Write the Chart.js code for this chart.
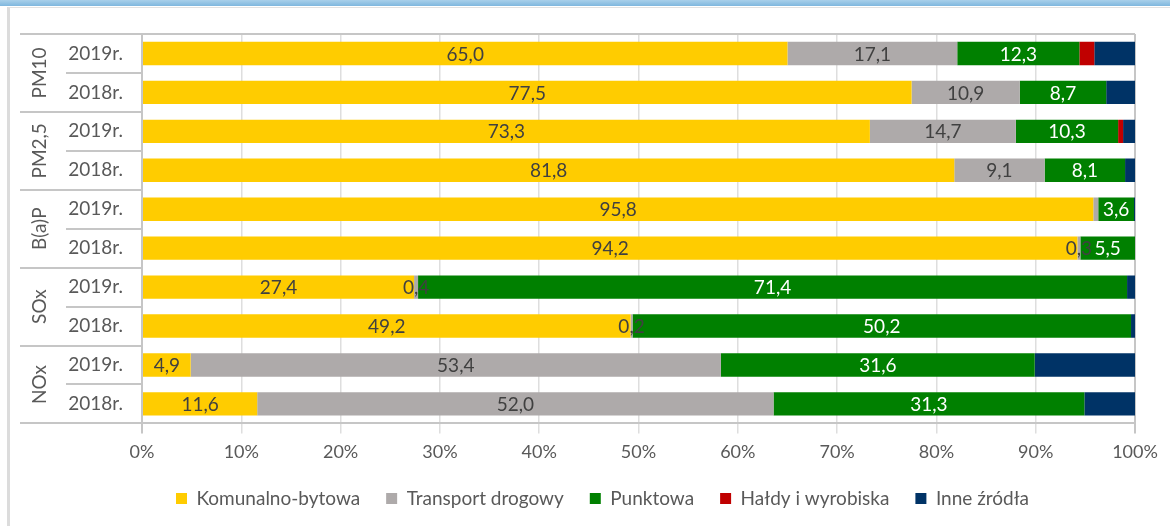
<!DOCTYPE html>
<html>
<head>
<meta charset="utf-8">
<script src="https://cdn.jsdelivr.net/npm/chart.js@4"></script>
<style>
  body { margin: 0; background: #fff; }
  #topbar { position: absolute; left: 0; top: 0; width: 1170px; height: 6px; background: linear-gradient(#a9d0ea, #7fb7de); }
  #panel { position: absolute; left: 7px; top: 7px; width: 1163px; height: 519px; border-left: 3px solid #dcdcdc; border-top: 1px solid #e2e2e2; box-sizing: border-box; }
  #chart { position: absolute; left: 0; top: 0; }
</style>
</head>
<body>
<div id="topbar"></div>
<div id="panel"></div>
<canvas id="chart" width="1170" height="526"></canvas>
<script>
//----------------------------------DATA-----------------------------------------------------------

const groups = ['PM10', 'PM2,5', 'B(a)P', 'SOx', 'NOx']
const years = ['2019r.', '2018r.']

const komunalno = [65.0, 77.5, 73.3, 81.8, 95.8, 94.2, 27.4, 49.2, 4.9, 11.6]
const transport = [17.1, 10.9, 14.7, 9.1, 0.5, 0.3, 0.4, 0.2, 53.4, 52.0]
const punktowa = [12.3, 8.7, 10.3, 8.1, 3.6, 5.5, 71.4, 50.2, 31.6, 31.3]
const haldy = [1.5, 0, 0.5, 0, 0, 0, 0, 0, 0, 0]
const inne = [4.1, 2.9, 1.2, 1.0, 0.1, 0, 0.8, 0.4, 10.1, 5.1]

const xTicks = [0, 10, 20, 30, 40, 50, 60, 70, 80, 90, 100]

// labels that stay hidden ("dataset:row")
const hiddenLabels = ['1:4']

//----------------------------------SETUP-----------------------------------------------------------

let rowLabels = []
groups.forEach(g => years.forEach(y => rowLabels.push(y)))

const FONT = 'Lato'
const TEXT = '#595959'
const LINE = '#c6c6c6'

function fmt(v){
    return v.toFixed(1).replace('.', ',')
}

// value labels inside the bars (only first three series)
const valueLabels = {
    id: 'valueLabels',
    afterDatasetsDraw(chart){
        const ctx = chart.ctx
        ctx.save()
        ctx.font = `19px ${FONT}`
        ctx.textAlign = 'center'
        ctx.textBaseline = 'middle'
        for(let d = 0; d < 3; d++){
            const meta = chart.getDatasetMeta(d)
            const ds = chart.data.datasets[d]
            meta.data.forEach((bar, i) => {
                const v = ds.data[i]
                if(!v || hiddenLabels.includes(d + ':' + i)) return
                ctx.fillStyle = d == 2 ? '#ffffff' : '#404040'
                ctx.fillText(fmt(v), (bar.x + bar.base) / 2, bar.y + 1)
            })
        }
        ctx.restore()
    }
}

// two level category axis: year rows + rotated pollutant names
const groupAxis = {
    id: 'groupAxis',
    afterLayout(chart){
        // legend sits a bit right of the plot centre
        chart.legend.left += 25
        chart.legend.right += 25
    },
    afterDraw(chart){
        const {ctx, chartArea, scales} = chart
        const y = scales.y
        const n = rowLabels.length
        let bounds = []
        for(let i = 0; i <= n; i++){
            if(i == 0) bounds.push(chartArea.top)
            else if(i == n) bounds.push(chartArea.bottom)
            else bounds.push((y.getPixelForValue(i - 1) + y.getPixelForValue(i)) / 2)
        }
        const outer = y.left
        const inner = y.left + 46
        ctx.save()
        ctx.strokeStyle = LINE
        ctx.lineWidth = 2
        for(let i = 0; i <= n; i++){
            const py = Math.round(bounds[i])
            ctx.beginPath()
            ctx.moveTo(i % 2 == 0 ? outer : inner, py)
            ctx.lineTo(i == 0 ? chartArea.right : chartArea.left, py)
            ctx.stroke()
        }
        ctx.fillStyle = TEXT
        ctx.font = `19px ${FONT}`
        ctx.textAlign = 'center'
        ctx.textBaseline = 'middle'
        groups.forEach((g, k) => {
            const cy = (bounds[2 * k] + bounds[2 * k + 2]) / 2
            ctx.save()
            ctx.translate(y.left + 20, cy)
            ctx.rotate(-Math.PI / 2)
            ctx.fillText(g, 0, 0)
            ctx.restore()
        })
        ctx.restore()
    }
}

//----------------------------------CHART-----------------------------------------------------------

const series = [
    ['Komunalno-bytowa', komunalno, '#ffcc00'],
    ['Transport drogowy', transport, '#aeaaaa'],
    ['Punktowa', punktowa, '#008000'],
    ['Hałdy i wyrobiska', haldy, '#c00000'],
    ['Inne źródła', inne, '#003366'],
]

new Chart(document.getElementById('chart'), {
    type: 'bar',
    data: {
        labels: rowLabels,
        datasets: series.map(s => ({
            label: s[0],
            data: s[1],
            backgroundColor: s[2],
            borderWidth: 0,
            categoryPercentage: 0.6,
            barPercentage: 1,
        }))
    },
    options: {
        indexAxis: 'y',
        responsive: false,
        animation: false,
        layout: { padding: { left: 20, right: 35, top: 34, bottom: 8 } },
        scales: {
            x: {
                stacked: true,
                min: 0,
                max: 100,
                afterBuildTicks: (scale) => { scale.ticks = xTicks.map(v => ({value: v})) },
                afterFit: (scale) => { scale.height -= 8 },
                ticks: {
                    callback: v => v + '%',
                    color: TEXT,
                    font: { family: FONT, size: 18 },
                    padding: 8,
                    maxRotation: 0,
                },
                grid: {
                    color: c => (c.index == 0 || c.index == xTicks.length - 1) ? LINE : '#dedede',
                    lineWidth: c => (c.index == 0 || c.index == xTicks.length - 1) ? 2 : 1.5,
                    tickLength: 10,
                },
                border: { color: LINE, width: 2 },
            },
            y: {
                stacked: true,
                afterFit: (scale) => { scale.width = 122 },
                ticks: {
                    color: TEXT,
                    font: { family: FONT, size: 19 },
                    padding: 11,
                },
                grid: { display: false },
                border: { display: false },
            }
        },
        plugins: {
            legend: {
                position: 'bottom',
                maxHeight: 70,
                labels: {
                    boxWidth: 11,
                    boxHeight: 11,
                    padding: 26,
                    color: TEXT,
                    font: { family: FONT, size: 19 },
                }
            },
            tooltip: { enabled: false },
        }
    },
    plugins: [valueLabels, groupAxis]
})
</script>
</body>
</html>
